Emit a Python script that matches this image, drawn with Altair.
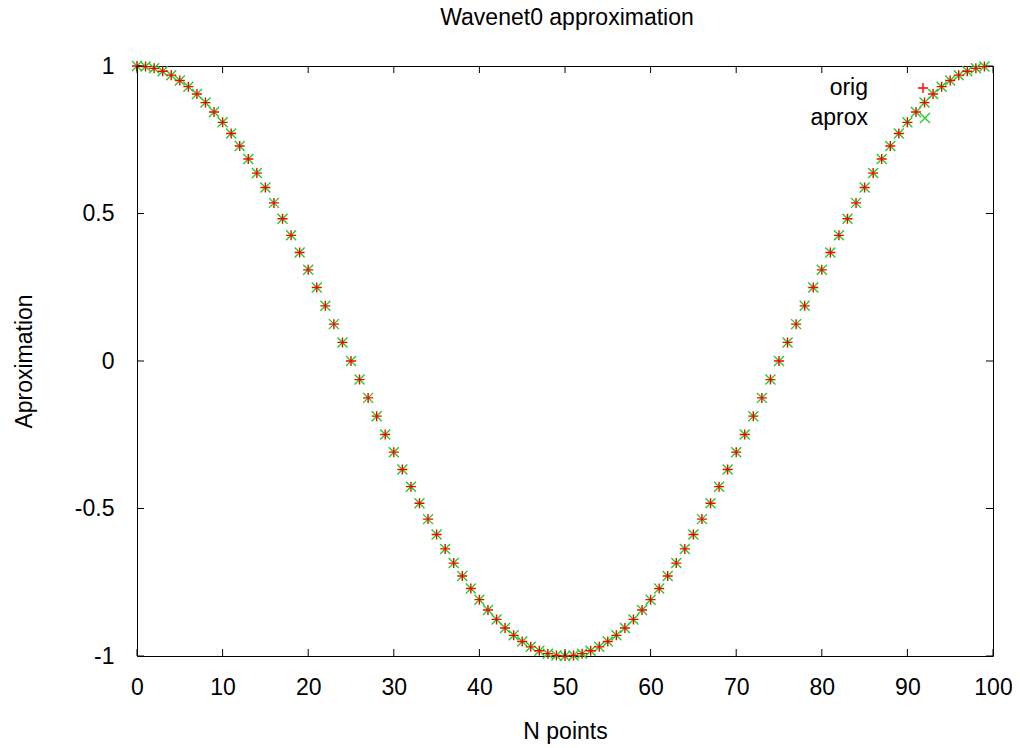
import altair as alt
import pandas as pd

# ---- data ----
n_points = list(range(100))

orig = [1.000, 0.998, 0.992, 0.982, 0.969, 0.951, 0.930, 0.905, 0.876, 0.844,
        0.809, 0.771, 0.729, 0.685, 0.637, 0.588, 0.536, 0.482, 0.426, 0.368,
        0.309, 0.249, 0.187, 0.125, 0.063, 0.000, -0.063, -0.125, -0.187, -0.249,
        -0.309, -0.368, -0.426, -0.482, -0.536, -0.588, -0.637, -0.685, -0.729, -0.771,
        -0.809, -0.844, -0.876, -0.905, -0.930, -0.951, -0.969, -0.982, -0.992, -0.998,
        -1.000, -0.998, -0.992, -0.982, -0.969, -0.951, -0.930, -0.905, -0.876, -0.844,
        -0.809, -0.771, -0.729, -0.685, -0.637, -0.588, -0.536, -0.482, -0.426, -0.368,
        -0.309, -0.249, -0.187, -0.125, -0.063, 0.000, 0.063, 0.125, 0.187, 0.249,
        0.309, 0.368, 0.426, 0.482, 0.536, 0.588, 0.637, 0.685, 0.729, 0.771,
        0.809, 0.844, 0.876, 0.905, 0.930, 0.951, 0.969, 0.982, 0.992, 0.998]

aprox = [1.000, 0.998, 0.992, 0.982, 0.969, 0.951, 0.930, 0.905, 0.876, 0.844,
         0.809, 0.771, 0.729, 0.685, 0.637, 0.588, 0.536, 0.482, 0.426, 0.368,
         0.309, 0.249, 0.187, 0.125, 0.063, 0.000, -0.063, -0.125, -0.187, -0.249,
         -0.309, -0.368, -0.426, -0.482, -0.536, -0.588, -0.637, -0.685, -0.729, -0.771,
         -0.809, -0.844, -0.876, -0.905, -0.930, -0.951, -0.969, -0.982, -0.992, -0.998,
         -1.000, -0.998, -0.992, -0.982, -0.969, -0.951, -0.930, -0.905, -0.876, -0.844,
         -0.809, -0.771, -0.729, -0.685, -0.637, -0.588, -0.536, -0.482, -0.426, -0.368,
         -0.309, -0.249, -0.187, -0.125, -0.063, 0.000, 0.063, 0.125, 0.187, 0.249,
         0.309, 0.368, 0.426, 0.482, 0.536, 0.588, 0.637, 0.685, 0.729, 0.771,
         0.809, 0.844, 0.876, 0.905, 0.930, 0.951, 0.969, 0.982, 0.992, 0.998]

x_ticks = [0, 10, 20, 30, 40, 50, 60, 70, 80, 90, 100]
y_ticks = [-1, -0.5, 0, 0.5, 1]
legend_labels = ["orig", "aprox"]
title_text = ["Wavenet0 approximation"]

# ---- styling ----
W, H = 856, 590
FONT = "Liberation Sans"
FS = 23
RED = "#ff0000"
GREEN = "#22cc22"
PLUS = "M-1,0L1,0M0,-1L0,1"
CROSS = "M-1,-1L1,1M-1,1L1,-1"
TICK = 7
SW = 1.4
LABEL_EXPR = "replace(datum.label, '\u2212', '-')"

x_scale = alt.Scale(domain=[0, 100], nice=False, zero=False)
y_scale = alt.Scale(domain=[-1, 1], nice=False, zero=False)

x_axis = alt.Axis(values=x_ticks, format="d", tickSize=0, domain=False, grid=False,
                  labelFlush=False, labelOverlap=False,
                  labelFont=FONT, labelFontSize=FS, labelColor="black", labelPadding=20,
                  titleFont=FONT, titleFontSize=FS, titleFontWeight="normal", titleColor="black",
                  titleX=W / 2, titleY=82, titleBaseline="alphabetic", titleAlign="center")
y_axis = alt.Axis(values=y_ticks, format="~g", labelExpr=LABEL_EXPR, tickSize=0, domain=False,
                  grid=False, labelFlush=False, labelOverlap=False,
                  labelFont=FONT, labelFontSize=FS, labelColor="black", labelPadding=23,
                  titleFont=FONT, titleFontSize=FS, titleFontWeight="normal", titleColor="black",
                  titleX=-106, titleY=H / 2, titleAngle=270, titleBaseline="alphabetic",
                  titleAlign="center")

df_orig = pd.DataFrame({"n": n_points, "v": orig})
df_aprox = pd.DataFrame({"n": n_points, "v": aprox})

aprox_layer = alt.Chart(df_aprox).mark_point(
    shape=CROSS, filled=False, stroke=GREEN, strokeWidth=SW, size=100, opacity=1, clip=False
).encode(
    x=alt.X("n:Q", scale=x_scale, axis=x_axis, title="N points"),
    y=alt.Y("v:Q", scale=y_scale, axis=y_axis, title="Aproximation"),
)

orig_layer = alt.Chart(df_orig).mark_point(
    shape=PLUS, filled=False, stroke=RED, strokeWidth=SW, size=100, opacity=1, clip=False
).encode(
    x=alt.X("n:Q", scale=x_scale, title="N points"),
    y=alt.Y("v:Q", scale=y_scale, title="Aproximation"),
)

xt = pd.DataFrame({"t": x_ticks})
yt = pd.DataFrame({"t": y_ticks})

bottom_ticks = alt.Chart(xt).mark_rule(color="black", strokeWidth=1).encode(
    x=alt.X("t:Q", scale=x_scale, title="N points"), y=alt.value(H), y2=alt.value(H - TICK))
top_ticks = alt.Chart(xt).mark_rule(color="black", strokeWidth=1).encode(
    x=alt.X("t:Q", scale=x_scale, title="N points"), y=alt.value(0), y2=alt.value(TICK))
left_ticks = alt.Chart(yt).mark_rule(color="black", strokeWidth=1).encode(
    y=alt.Y("t:Q", scale=y_scale, title="Aproximation"), x=alt.value(0), x2=alt.value(TICK))
right_ticks = alt.Chart(yt).mark_rule(color="black", strokeWidth=1).encode(
    y=alt.Y("t:Q", scale=y_scale, title="Aproximation"), x=alt.value(W - TICK), x2=alt.value(W))

title_layer = alt.Chart(pd.DataFrame({"label": title_text})).mark_text(
    align="center", baseline="alphabetic", font=FONT, fontSize=FS, color="black"
).encode(x=alt.value(W / 2 + 2), y=alt.value(-41), text="label:N")

leg_orig_text = alt.Chart(pd.DataFrame({"label": [legend_labels[0]]})).mark_text(
    align="right", baseline="middle", font=FONT, fontSize=FS, color="black"
).encode(x=alt.value(731), y=alt.value(22), text="label:N")
leg_aprox_text = alt.Chart(pd.DataFrame({"label": [legend_labels[1]]})).mark_text(
    align="right", baseline="middle", font=FONT, fontSize=FS, color="black"
).encode(x=alt.value(731), y=alt.value(52), text="label:N")
leg_orig_sym = alt.Chart(pd.DataFrame({"label": [legend_labels[0]]})).mark_point(
    shape=PLUS, filled=False, stroke=RED, strokeWidth=SW, size=100, opacity=1
).encode(x=alt.value(786), y=alt.value(22))
leg_aprox_sym = alt.Chart(pd.DataFrame({"label": [legend_labels[1]]})).mark_point(
    shape=CROSS, filled=False, stroke=GREEN, strokeWidth=SW, size=100, opacity=1
).encode(x=alt.value(788), y=alt.value(52))

chart = alt.layer(
    aprox_layer, orig_layer,
    bottom_ticks, top_ticks, left_ticks, right_ticks,
    title_layer,
    leg_orig_text, leg_aprox_text, leg_orig_sym, leg_aprox_sym,
).properties(
    width=W, height=H,
    autosize=alt.AutoSizeParams(type="none"),
    padding={"left": 129, "top": 58, "right": 19, "bottom": 92},
    background="white",
).configure_view(stroke="black", strokeWidth=1)

chart.save("out.html", embed_options={"renderer": "svg", "actions": False})
